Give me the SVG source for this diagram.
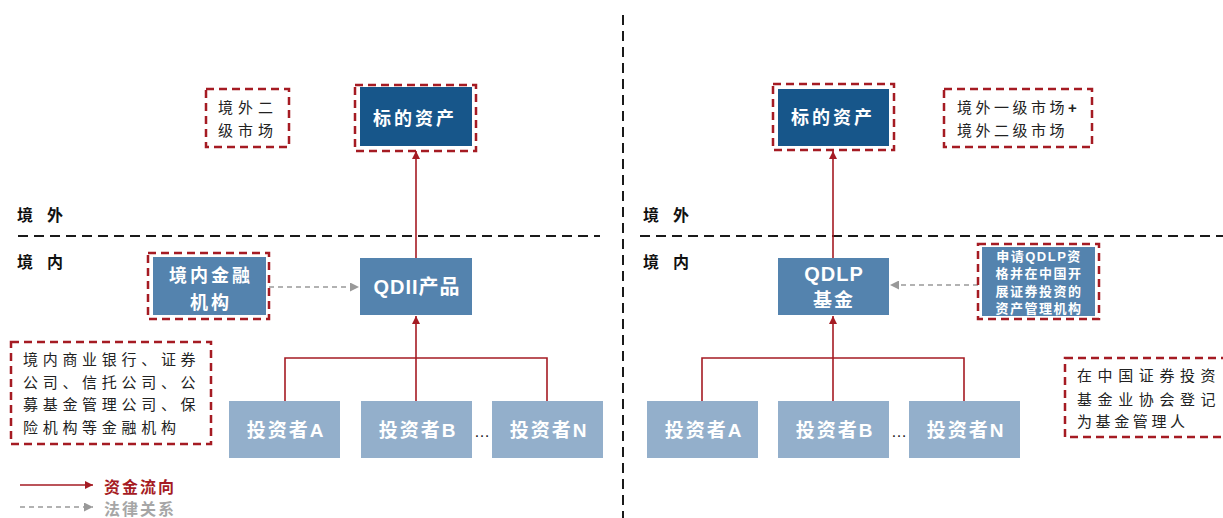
<svg xmlns="http://www.w3.org/2000/svg" width="1223" height="518" viewBox="0 0 1223 518">
<defs>
<style>
.dbox{fill:none;stroke:#A51B23;stroke-width:2.5;stroke-dasharray:8 5}
.dark{fill:#17568A}
.mid{fill:#5483AE}
.inv{fill:#93AFCB}
.sep{stroke:#1a1a1a;stroke-width:2;stroke-dasharray:10 6;fill:none}
.flow{stroke:#A51B23;stroke-width:1.6;fill:none}
.legal{stroke:#999;stroke-width:1.6;stroke-dasharray:5 4;fill:none}
text{font-family:"Liberation Sans","Noto Sans CJK SC",sans-serif}
.wt{fill:#fff;font-weight:bold}
.bt{fill:#222;font-size:15px}
.zone{fill:#111;font-size:16px;font-weight:bold;letter-spacing:14px}
</style>
<marker id="ar" viewBox="0 0 10 10" refX="10" refY="5" markerWidth="8" markerHeight="8" markerUnits="userSpaceOnUse" orient="auto"><path d="M0,0L10,5L0,10z" fill="#A51B23"/></marker>
<marker id="ag" viewBox="0 0 10 10" refX="10" refY="5" markerWidth="9" markerHeight="9" markerUnits="userSpaceOnUse" orient="auto"><path d="M0,0L10,5L0,10z" fill="#999"/></marker>
</defs>
<rect width="1223" height="518" fill="#fff"/>

<g id="dividers">
<line class="sep" x1="623" y1="15" x2="623" y2="518" stroke-dasharray="8 6"/>
<line class="sep" x1="18" y1="236" x2="600" y2="236"/>
<line class="sep" x1="640" y1="236" x2="1223" y2="236"/>
</g>

<g id="zone-labels">
<text class="zone" x="17" y="221">境外</text>
<text class="zone" x="17" y="268">境内</text>
<text class="zone" x="643" y="221">境外</text>
<text class="zone" x="643" y="268">境内</text>
</g>

<g id="connectors">
<line class="flow" x1="416" y1="258" x2="416" y2="151" marker-end="url(#ar)"/>
<polyline class="flow" points="285,401 285,358 547,358 547,401"/>
<line class="flow" x1="416" y1="401" x2="416" y2="316" marker-end="url(#ar)"/>
<line class="legal" x1="269" y1="287" x2="359" y2="287" marker-end="url(#ag)"/>
<line class="flow" x1="833" y1="258" x2="833" y2="151" marker-end="url(#ar)"/>
<polyline class="flow" points="702,401 702,358 964,358 964,401"/>
<line class="flow" x1="833" y1="401" x2="833" y2="316" marker-end="url(#ar)"/>
<line class="legal" x1="978" y1="285" x2="890" y2="285" marker-end="url(#ag)"/>
</g>

<g id="left-market">
<rect class="dbox" x="206" y="89" width="83" height="58"/>
<text class="bt" x="218" y="113" letter-spacing="5">境外二</text>
<text class="bt" x="218" y="136" letter-spacing="5">级市场</text>
</g>

<g id="left-asset">
<rect class="dark" x="360" y="87" width="112" height="59"/>
<rect class="dbox" x="355" y="85" width="121" height="66"/>
<text class="wt" x="373" y="125" font-size="18" font-weight="normal" letter-spacing="3">标的资产</text>
</g>

<g id="qdii">
<rect class="mid" x="360" y="258" width="112" height="57"/>
<text class="wt" x="417" y="294" font-size="20" text-anchor="middle" letter-spacing="1">QDII产品</text>
</g>

<g id="domestic-inst">
<rect class="mid" x="153" y="257" width="113" height="58"/>
<rect class="dbox" x="148" y="253" width="121" height="66"/>
<text class="wt" x="211" y="282" font-size="18" font-weight="normal" text-anchor="middle" letter-spacing="3">境内金融</text>
<text class="wt" x="211" y="309" font-size="18" font-weight="normal" text-anchor="middle" letter-spacing="3">机构</text>
</g>

<g id="left-note">
<rect class="dbox" x="11" y="342" width="200" height="102"/>
<text class="bt" x="23" y="365" letter-spacing="4.7">境内商业银行、证券</text>
<text class="bt" x="23" y="388" letter-spacing="4.7">公司、信托公司、公</text>
<text class="bt" x="23" y="410" letter-spacing="4.7">募基金管理公司、保</text>
<text class="bt" x="23" y="433" letter-spacing="4.7">险机构等金融机构</text>
</g>

<g id="left-investor-a">
<rect class="inv" x="229" y="401" width="111" height="57"/>
<text class="wt" x="286" y="437" font-size="19" text-anchor="middle" letter-spacing="2">投资者A</text>
</g>
<g id="left-investor-b">
<rect class="inv" x="361" y="401" width="111" height="57"/>
<text class="wt" x="418" y="437" font-size="19" text-anchor="middle" letter-spacing="2">投资者B</text>
</g>
<text x="482" y="437" font-size="16" fill="#222" text-anchor="middle">…</text>
<g id="left-investor-n">
<rect class="inv" x="492" y="401" width="111" height="57"/>
<text class="wt" x="549" y="437" font-size="19" text-anchor="middle" letter-spacing="2">投资者N</text>
</g>

<g id="legend">
<line class="flow" x1="20" y1="485" x2="93" y2="485" marker-end="url(#ar)"/>
<text x="104" y="493" font-size="16" font-weight="bold" fill="#A51B23" letter-spacing="2">资金流向</text>
<line class="legal" x1="20" y1="507" x2="93" y2="507" marker-end="url(#ag)"/>
<text x="104" y="515" font-size="16" font-weight="bold" fill="#A6A6A6" letter-spacing="2">法律关系</text>
</g>

<g id="right-asset">
<rect class="dark" x="778" y="89" width="111" height="57"/>
<rect class="dbox" x="773" y="84" width="121" height="66"/>
<text class="wt" x="791" y="124" font-size="18" font-weight="normal" letter-spacing="3">标的资产</text>
</g>

<g id="right-market">
<rect class="dbox" x="944" y="89" width="148" height="58"/>
<text class="bt" x="957" y="113" letter-spacing="3.5">境外一级市场<tspan font-weight="bold">+</tspan></text>
<text class="bt" x="957" y="136" letter-spacing="3.5">境外二级市场</text>
</g>

<g id="qdlp">
<rect class="mid" x="778" y="258" width="111" height="57"/>
<text class="wt" x="834" y="281" font-size="20" text-anchor="middle" letter-spacing="1">QDLP</text>
<text class="wt" x="834" y="307" font-size="19" font-weight="normal" text-anchor="middle" letter-spacing="2">基金</text>
</g>

<g id="qdlp-manager">
<rect class="mid" x="982" y="247" width="113" height="69"/>
<rect class="dbox" x="978" y="244" width="121" height="75"/>
<text class="wt" x="1039" y="261" font-size="13" text-anchor="middle" letter-spacing="1.5">申请QDLP资</text>
<text class="wt" x="1039" y="278" font-size="13" font-weight="normal" text-anchor="middle" letter-spacing="1.5">格并在中国开</text>
<text class="wt" x="1039" y="295.5" font-size="13" font-weight="normal" text-anchor="middle" letter-spacing="1.5">展证券投资的</text>
<text class="wt" x="1039" y="312.5" font-size="13" font-weight="normal" text-anchor="middle" letter-spacing="1.5">资产管理机构</text>
</g>

<g id="right-note">
<rect class="dbox" x="1065" y="358" width="162" height="79"/>
<text class="bt" x="1077" y="381" letter-spacing="5.6">在中国证券投资</text>
<text class="bt" x="1077" y="405" letter-spacing="5.6">基金业协会登记</text>
<text class="bt" x="1077" y="427" letter-spacing="3.6">为基金管理人</text>
</g>

<g id="right-investor-a">
<rect class="inv" x="647" y="401" width="111" height="57"/>
<text class="wt" x="704" y="437" font-size="19" text-anchor="middle" letter-spacing="2">投资者A</text>
</g>
<g id="right-investor-b">
<rect class="inv" x="778" y="401" width="111" height="57"/>
<text class="wt" x="835" y="437" font-size="19" text-anchor="middle" letter-spacing="2">投资者B</text>
</g>
<text x="899" y="437" font-size="16" fill="#222" text-anchor="middle">…</text>
<g id="right-investor-n">
<rect class="inv" x="909" y="401" width="111" height="57"/>
<text class="wt" x="966" y="437" font-size="19" text-anchor="middle" letter-spacing="2">投资者N</text>
</g>
</svg>
